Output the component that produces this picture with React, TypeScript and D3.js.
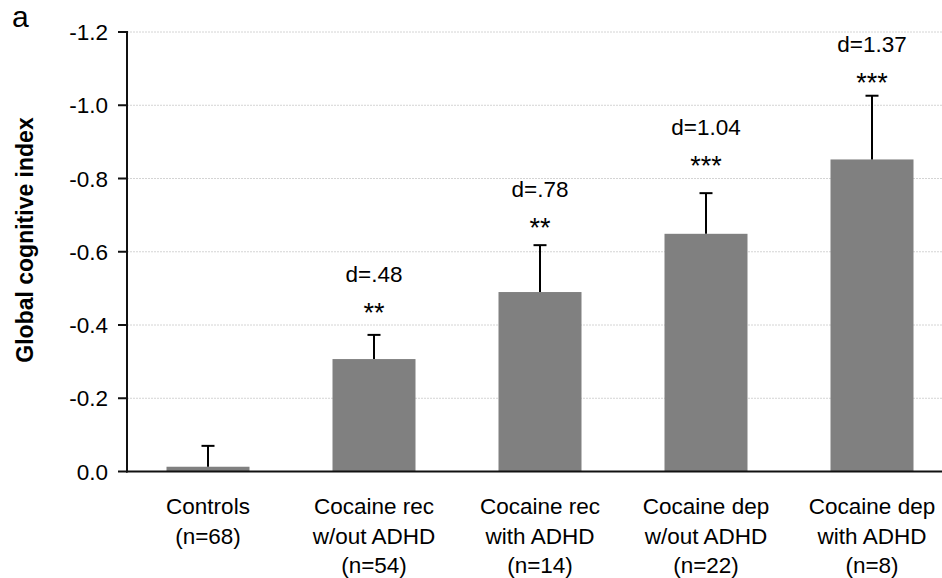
import React from "react";
import * as d3 from "d3";

const categories = [
  ["Controls", "(n=68)"],
  ["Cocaine rec", "w/out ADHD", "(n=54)"],
  ["Cocaine rec", "with ADHD", "(n=14)"],
  ["Cocaine dep", "w/out ADHD", "(n=22)"],
  ["Cocaine dep", "with ADHD", "(n=8)"],
];
const means = [-0.013, -0.307, -0.49, -0.649, -0.852];
const errorTops = [-0.07, -0.373, -0.618, -0.76, -1.026];
const effectLabels = ["", "d=.48", "d=.78", "d=1.04", "d=1.37"];
const starLabels = ["", "**", "**", "***", "***"];
const starLevels = [0, -0.449, -0.681, -0.85, -1.077];
const yTicks = [0, -0.2, -0.4, -0.6, -0.8, -1.0, -1.2];

const W = 942;
const H = 578;
const FONT = "Liberation Sans, Arial, sans-serif";

export default function App() {
  const x = d3
    .scaleBand<number>()
    .domain(d3.range(categories.length))
    .range([125, 955])
    .paddingInner(0.5)
    .paddingOuter(0.25);
  const y = d3.scaleLinear().domain([0, -1.2]).range([471.5, 32]);
  const fmt = (v: number) => d3.format(".1f")(v).replace("\u2212", "-");
  const axisX = 127;
  const bw = x.bandwidth();

  return (
    <div style={{ position: "absolute", left: 0, top: 0 }}>
      <svg width={W} height={H} style={{ display: "block", background: "#fff" }} fontFamily={FONT}>
        {/* gridlines */}
        {yTicks
          .filter((t) => t !== 0)
          .map((t) => (
            <line
              key={"g" + t}
              x1={axisX}
              x2={W}
              y1={y(t)}
              y2={y(t)}
              stroke="#d4d4d4"
              strokeWidth={1}
              strokeDasharray="2,1"
            />
          ))}
        {/* bars */}
        {means.map((m, i) => (
          <rect
            key={"b" + i}
            x={x(i)!}
            y={y(m)}
            width={bw}
            height={y(0) - y(m)}
            fill="#808080"
          />
        ))}
        {/* error bars */}
        {errorTops.map((e, i) => {
          const cx = x(i)! + bw / 2;
          return (
            <g key={"e" + i} stroke="#000" strokeWidth={2}>
              <line x1={cx} x2={cx} y1={y(means[i])} y2={y(e)} />
              <line x1={cx - 6.5} x2={cx + 6.5} y1={y(e)} y2={y(e)} />
            </g>
          );
        })}
        {/* annotations */}
        {effectLabels.map((d, i) => {
          if (!d) return null;
          const cx = x(i)! + bw / 2;
          const sb = y(starLevels[i]) + 15;
          return (
            <g key={"a" + i} textAnchor="middle" fill="#000">
              <text x={cx} y={sb} fontSize={27}>{starLabels[i]}</text>
              <text x={cx} y={y(starLevels[i]) - 25} fontSize={22.5}>{d}</text>
            </g>
          );
        })}
        {/* y axis */}
        <line x1={axisX} x2={axisX} y1={y(-1.2) - 1} y2={y(0) + 1} stroke="#111" strokeWidth={2} />
        {yTicks.map((t) => (
          <g key={"t" + t}>
            <line x1={118} x2={axisX} y1={y(t)} y2={y(t)} stroke="#111" strokeWidth={2} />
            <text x={108} y={y(t) + 8} textAnchor="end" fontSize={22.5} fill="#000">
              {fmt(t)}
            </text>
          </g>
        ))}
        {/* x axis */}
        <line x1={axisX - 1} x2={W} y1={y(0)} y2={y(0)} stroke="#111" strokeWidth={2} />
        {categories.map((lines, i) => (
          <text
            key={"c" + i}
            x={x(i)! + bw / 2}
            textAnchor="middle"
            fontSize={22.5}
            fill="#000"
          >
            {lines.map((l, j) => (
              <tspan key={j} x={x(i)! + bw / 2} y={514 + j * 29.5}>
                {l}
              </tspan>
            ))}
          </text>
        ))}
        {/* y title */}
        <text
          transform={`translate(33, 240) rotate(-90)`}
          textAnchor="middle"
          fontSize={23}
          fontWeight="bold"
          fill="#000"
        >
          Global cognitive index
        </text>
        {/* panel label */}
        <text x={12} y={27} fontSize={30} fill="#000">
          a
        </text>
      </svg>
    </div>
  );
}
